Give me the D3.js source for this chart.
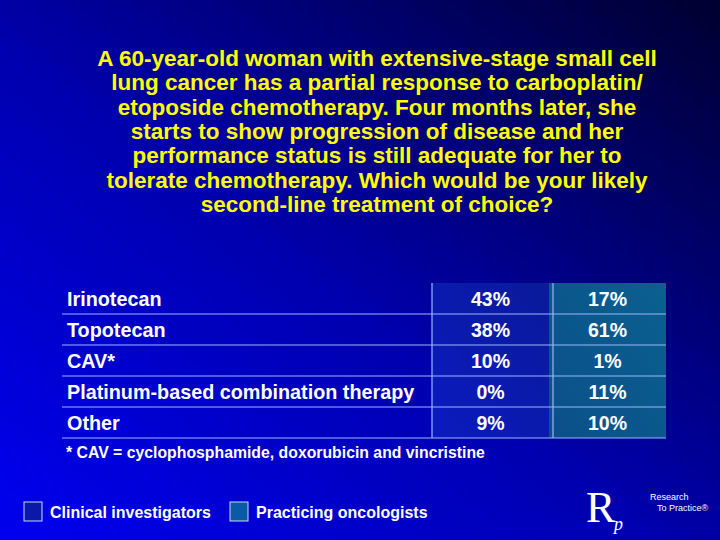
<!DOCTYPE html>
<html><head><meta charset="utf-8">
<script src="https://cdn.jsdelivr.net/npm/d3@7"></script>
<style>body{margin:0;}svg{display:block;font-family:"Liberation Sans",Arial,sans-serif;font-weight:bold;}</style>
</head><body><div class="slide"></div>
<script>
const WIDTH = 720;
const HEIGHT = 540;

var titleLines = [
    'A 60-year-old woman with extensive-stage small cell',
    'lung cancer has a partial response to carboplatin/',
    'etoposide chemotherapy. Four months later, she',
    'starts to show progression of disease and her',
    'performance status is still adequate for her to',
    'tolerate chemotherapy. Which would be your likely',
    'second-line treatment of choice?'
];
var categories = ['Irinotecan', 'Topotecan', 'CAV*', 'Platinum-based combination therapy', 'Other'];
var series = ['Clinical investigators', 'Practicing oncologists'];
var clinical = [43, 38, 10, 0, 9];
var practicing = [17, 61, 1, 11, 10];
var footnote = '* CAV = cyclophosphamide, doxorubicin and vincristine';

var svg = d3.select('.slide').append('svg').attr('width', WIDTH).attr('height', HEIGHT);
var defs = svg.append('defs');
var bg = defs.append('linearGradient').attr('id', 'bg')
    .attr('x1', 0).attr('y1', 1).attr('x2', 1).attr('y2', 0);
bg.append('stop').attr('offset', '0%').attr('stop-color', '#0000f0');
bg.append('stop').attr('offset', '45%').attr('stop-color', '#0000b0');
bg.append('stop').attr('offset', '100%').attr('stop-color', '#000030');
svg.append('rect').attr('width', WIDTH).attr('height', HEIGHT).attr('fill', 'url(#bg)');

var c1 = defs.append('linearGradient').attr('id', 'c1').attr('x1', 0).attr('y1', 1).attr('x2', 1).attr('y2', 0);
c1.append('stop').attr('offset', '0%').attr('stop-color', '#0a1ac0');
c1.append('stop').attr('offset', '100%').attr('stop-color', '#0a1a9a');
var c2 = defs.append('linearGradient').attr('id', 'c2').attr('x1', 0).attr('y1', 1).attr('x2', 1).attr('y2', 0);
c2.append('stop').attr('offset', '0%').attr('stop-color', '#0b4f8a');
c2.append('stop').attr('offset', '100%').attr('stop-color', '#0a6090');

// title
svg.append('g').selectAll('text').data(titleLines).enter().append('text')
    .attr('x', 377).attr('y', function (d, i) { return 66 + i * 24.3; })
    .attr('text-anchor', 'middle').attr('fill', '#ffff00').attr('font-size', 22.5)
    .text(function (d) { return d; });

// table
var rowScale = d3.scaleBand().domain(categories).range([283, 438]);
var colScale = d3.scaleBand().domain(series).range([432, 666]);
var fills = ['url(#c1)', 'url(#c2)'];
var values = [clinical, practicing];
var t = svg.append('g');

series.forEach(function (s, si) {
    t.append('rect').attr('x', colScale(s)).attr('y', 283)
        .attr('width', colScale.bandwidth()).attr('height', 155).attr('fill', fills[si]);
});
categories.forEach(function (c, ri) {
    var y = rowScale(c) + rowScale.bandwidth() / 2 + 7;
    t.append('text').attr('x', 67).attr('y', y).attr('fill', '#fff').attr('font-size', 19.8).text(c);
    series.forEach(function (s, si) {
        t.append('text').attr('x', colScale(s) + colScale.bandwidth() / 2).attr('y', y)
            .attr('text-anchor', 'middle').attr('fill', '#fff').attr('font-size', 19.5)
            .text(values[si][ri] + '%');
    });
    t.append('line').attr('x1', 62).attr('x2', 666)
        .attr('y1', rowScale(c) + rowScale.bandwidth()).attr('y2', rowScale(c) + rowScale.bandwidth())
        .attr('stroke', '#9ab8ff').attr('stroke-width', 1.2);
});
[432, 553].forEach(function (x) {
    t.append('line').attr('x1', x).attr('x2', x).attr('y1', 283).attr('y2', 438)
        .attr('stroke', '#9ab8ff').attr('stroke-width', 1.2);
});
t.append('text').attr('x', 66).attr('y', 458).attr('fill', '#fff').attr('font-size', 15.8).text(footnote);

// legend
var leg = svg.append('g');
var legX = [24, 230];
var legFill = ['#0a1aa8', '#0b5aa8'];
series.forEach(function (s, i) {
    leg.append('rect').attr('x', legX[i]).attr('y', 502).attr('width', 18).attr('height', 19)
        .attr('fill', legFill[i]).attr('stroke', '#c8d8ff').attr('stroke-width', 1);
    leg.append('text').attr('x', legX[i] + 26).attr('y', 518).attr('fill', '#fff')
        .attr('font-size', 16).text(s);
});

// logo
var logo = svg.append('g').attr('fill', '#fff').attr('font-weight', 'normal');
logo.append('text').attr('x', 586).attr('y', 522).attr('font-family', 'Liberation Serif,serif')
    .attr('font-size', 44).text('R');
logo.append('text').attr('x', 614).attr('y', 530).attr('font-family', 'Liberation Serif,serif')
    .attr('font-style', 'italic').attr('font-size', 18).text('p');
logo.append('text').attr('x', 650).attr('y', 500).attr('font-size', 9).text('Research');
logo.append('text').attr('x', 657).attr('y', 511).attr('font-size', 9).text('To Practice®');
</script></body></html>
